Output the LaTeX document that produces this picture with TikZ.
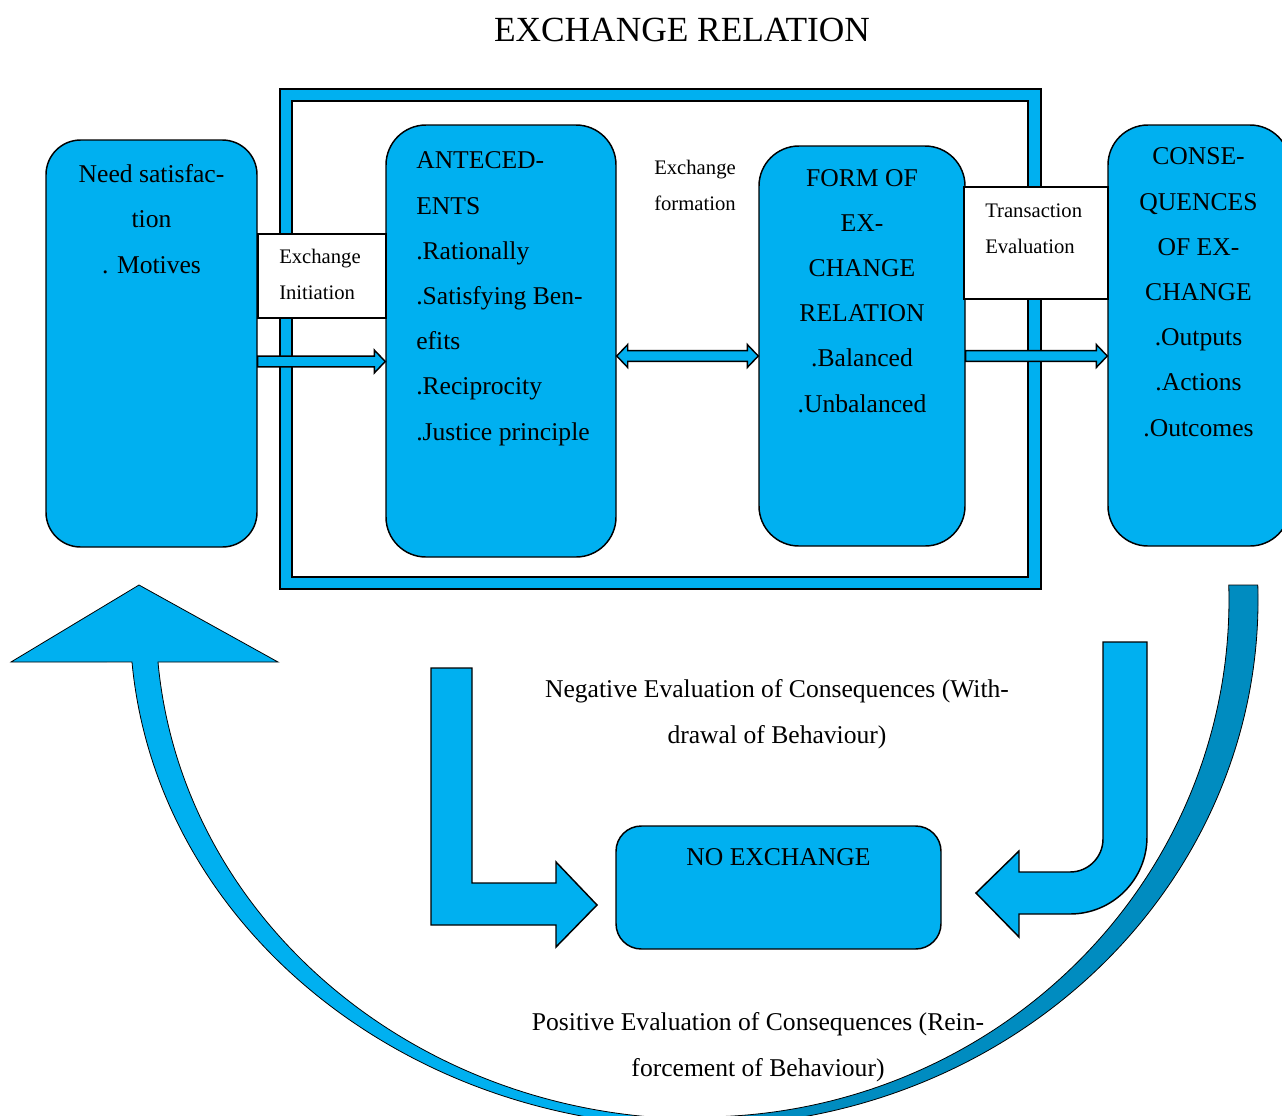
\documentclass[tikz,border=0pt]{standalone}
\usepackage{fontspec}
\setmainfont{Liberation Serif}
\usetikzlibrary{calc}
\definecolor{lb}{RGB}{0,176,240}
\definecolor{db}{RGB}{0,140,192}
\newcommand\blockarrow[2]{%
  \draw[blk] let \p1=(#1), \p2=(#2) in
   (\x1,\y1+4.1pt) -- (\x2-8.25pt,\y1+4.1pt) -- (\x2-8.25pt,\y1+8.6pt) -- (\x2,\y1)
   -- (\x2-8.25pt,\y1-8.6pt) -- (\x2-8.25pt,\y1-4.1pt) -- (\x1,\y1-4.1pt) -- cycle;}
\newcommand\dblarrow[2]{%
  \draw[blk] let \p1=(#1), \p2=(#2) in
   (\x1,\y1) -- (\x1+8.25pt,\y1+8.6pt) -- (\x1+8.25pt,\y1+4.1pt) -- (\x2-8.25pt,\y1+4.1pt)
   -- (\x2-8.25pt,\y1+8.6pt) -- (\x2,\y1) -- (\x2-8.25pt,\y1-8.6pt) -- (\x2-8.25pt,\y1-4.1pt)
   -- (\x1+8.25pt,\y1-4.1pt) -- (\x1+8.25pt,\y1-8.6pt) -- cycle;}
\begin{document}
\begin{tikzpicture}[x=0.75pt,y=-0.75pt,
  rbox/.style={draw=black, line width=1.1pt, fill=lb, rounded corners=#1, inner sep=0pt},
  wbox/.style={draw=black, line width=1pt, fill=white, inner sep=0pt},
  blk/.style={draw=black, line width=1.1pt, fill=lb, line join=miter},
  curv/.style={draw=black, line width=0.6pt},
  big/.style={font=\fontsize{19.2}{33.9}\selectfont, inner sep=0pt},
  small/.style={font=\fontsize{15.5}{27}\selectfont, inner sep=0pt}]
\useasboundingbox (0,0) rectangle (1282,1115);
\begin{scope}
\clip (0,0) rectangle (1282,1115);
% title
\node[font=\fontsize{26.5}{30}\selectfont, inner sep=0pt, anchor=base] (title) at (682,41) {EXCHANGE RELATION};
% frame
\path[fill=lb, draw=black, line width=1pt, even odd rule] (280,89) rectangle (1041,589) (292,101) rectangle (1028,577);
% boxes
\node[rbox=26pt, minimum width=158.25pt, minimum height=305.25pt] (need) at (151.5,343.5) {};
\node[rbox=30pt, minimum width=172.5pt, minimum height=324pt] (ant) at (501,341) {};
\node[rbox=30pt, minimum width=154.5pt, minimum height=300pt] (form) at (862,346) {};
\node[rbox=30pt, minimum width=136.5pt, minimum height=315.75pt] (cons) at (1199,335.5) {};
\node[wbox, minimum width=96pt, minimum height=63pt] (init) at (322,276) {};
\node[wbox, minimum width=108pt, minimum height=84pt] (trans) at (1036,243) {};
\node[rbox=19pt, minimum width=243.75pt, minimum height=92.25pt] (noex) at (778.5,887.5) {};
% texts (anchored at the baseline of the last line)
\node[big, anchor=base, align=center] (needtxt) at (151.5,273) {Need satisfac-\\tion\\. Motives};
\node[big, anchor=base west, align=left] (anttxt) at (416,440) {ANTECED-\\ENTS\\.Rationally\\.Satisfying Ben-\\efits\\.Reciprocity\\.Justice principle};
\node[big, anchor=base, align=center] (formtxt) at (862,412) {FORM OF\\EX-\\CHANGE\\RELATION\\.Balanced\\.Unbalanced};
\node[big, anchor=base, align=center] (constxt) at (1198.5,436) {CONSE-\\QUENCES\\OF EX-\\CHANGE\\.Outputs\\.Actions\\.Outcomes};
\node[small, anchor=base west, align=left] (inittxt) at (279,299) {Exchange\\Initiation};
\node[small, anchor=base west, align=left] (transtxt) at (985,253) {Transaction\\Evaluation};
\node[small, anchor=base west, align=left] (formation) at (654,210) {Exchange\\formation};
\node[big, anchor=base] (noextxt) at (778.5,865) {NO EXCHANGE};
\node[big, anchor=base, align=center] (neg) at (777,743) {Negative Evaluation of Consequences (With-\\drawal of Behaviour)};
\node[big, anchor=base, align=center] (pos) at (758,1076) {Positive Evaluation of Consequences (Rein-\\forcement of Behaviour)};
% connectors
\coordinate (a1) at ($(need.east)+(0,18)$);
\coordinate (a2) at ($(ant.east)+(0,15)$);
\coordinate (a3) at ($(form.east)+(0,10)$);
\blockarrow{a1}{a1 -| ant.west}
\dblarrow{a2}{a2 -| form.west}
\blockarrow{a3}{a3 -| cons.west}
% curved arrow: back band
\draw[curv, fill=db] (1257.8,585) arc[start angle=-1.63, end angle=90, x radius=558, y radius=526]
  -- (700,1117) arc[start angle=90, end angle=-1.66, x radius=529, y radius=517] -- cycle;
% curved arrow: front band with head
\draw[curv, fill=lb] (11,662) -- (139,585) -- (278,662) -- (158,662)
  arc[start angle=175.17, end angle=90, x radius=544, y radius=499]
  -- (700,1127) arc[start angle=90, end angle=175.25, x radius=570, y radius=507] -- cycle;
% bent arrows
\draw[blk] (431,668) -- (472,668) -- (472,883) -- (556,883) -- (556,862) -- (597,905) -- (556,947) -- (556,925) -- (431,925) -- cycle;
\draw[blk] (1103,642) -- (1147,642) -- (1147,837) arc[start angle=0, end angle=90, radius=77] -- (1019,914) -- (1019,937) -- (976,893) -- (1019,851) -- (1019,872) -- (1070,872) arc[start angle=90, end angle=0, radius=33] -- cycle;
\end{scope}
\end{tikzpicture}
\end{document}
